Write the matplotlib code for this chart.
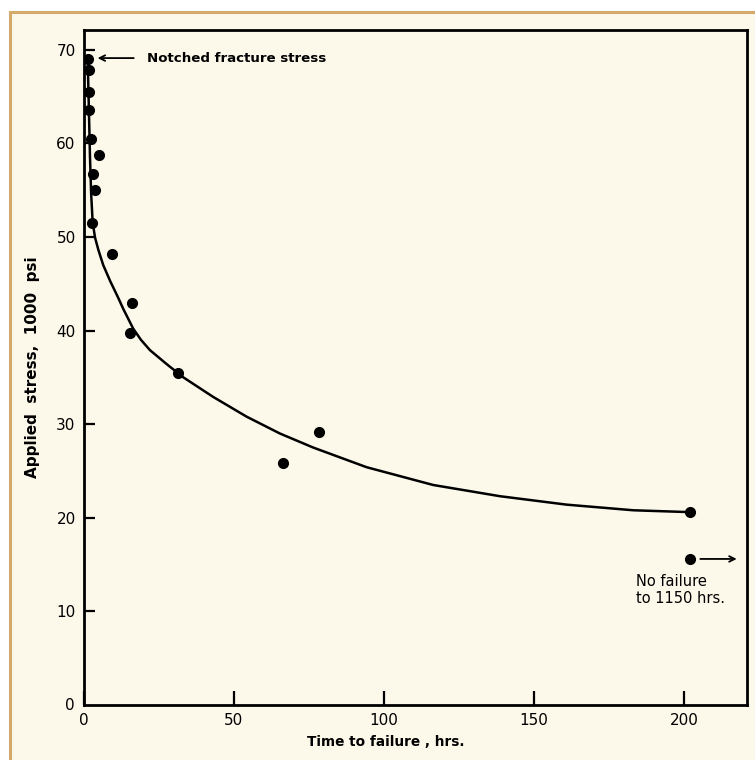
import matplotlib.pyplot as plt
from matplotlib.patches import Rectangle

# measured points (time to failure, hrs ; stress, 1000 psi)
time_hrs = [1.4, 1.8, 1.8, 1.8, 2.3, 4.9, 3.1, 3.8, 2.8, 9.4, 16.1, 15.3, 31.2, 78.3, 66.2, 202.0]
stress = [69.0, 67.8, 65.5, 63.6, 60.5, 58.8, 56.7, 55.0, 51.5, 48.2, 42.9, 39.7, 35.5, 29.2, 25.9, 20.6]

# run-out specimen (no failure)
runout_time = [202.0]
runout_stress = [15.6]

# faired curve
curve_time = [1.2, 1.6, 2.0, 2.4, 2.9, 3.7, 4.8, 6.4, 8.7, 11.4, 13.1, 16.4, 19.0, 22.0, 27.6,
              33.1, 43.1, 54.2, 65.3, 76.4, 94.2, 116.4, 138.7, 160.9, 183.1, 202.0]
curve_stress = [69.3, 64.0, 58.5, 54.5, 51.5, 49.9, 48.6, 47.0, 45.3, 43.5, 42.3, 40.2, 39.0, 37.9,
                36.4, 35.0, 32.9, 30.8, 29.0, 27.5, 25.4, 23.5, 22.3, 21.4, 20.8, 20.6]

x_ticks = [0, 50, 100, 150, 200]
y_ticks = [10, 20, 30, 40, 50, 60, 70]

cream = '#FCF8EA'
tan = '#D5AB6C'

fig = plt.figure(figsize=(7.55, 7.6), dpi=100, facecolor='white')
fig.patches.append(Rectangle((10 / 755, -0.05), 1.0, 1 - 12 / 760 + 0.05,
                             transform=fig.transFigure, facecolor=cream,
                             edgecolor=tan, linewidth=2.2, zorder=-5))

ax = fig.add_axes([84 / 755, 1 - 705 / 760, (747 - 84) / 755, (705 - 30) / 760])
ax.set_zorder(2)
ax.set_facecolor('none')
ax.set_xlim(0, 221)
ax.set_ylim(0, 72.1)

ax.plot(curve_time, curve_stress, color='black', lw=1.8, zorder=3)
ax.plot(time_hrs, stress, 'o', color='black', ms=7, zorder=4)
ax.plot(runout_time, runout_stress, 'o', color='black', ms=7, zorder=4)

for s in ax.spines.values():
    s.set_linewidth(2)

ax.set_xticks(x_ticks)
ax.set_yticks(y_ticks)
ax.tick_params(axis='x', direction='in', length=10, width=1.6, labelsize=11, pad=6)
ax.tick_params(axis='y', direction='in', length=8, width=1.6, labelsize=11, pad=6)

# zero label of the stress axis sits apart from the corner
ax.text(-4.7, 0.0, '0', fontsize=11, ha='center', va='center')

ax.set_ylabel('Applied  stress,  1000  psi', fontsize=11, fontweight='bold', labelpad=12)
ax.set_xlabel('Time to failure , hrs.', fontsize=9.8, fontweight='bold', labelpad=8)
ax.xaxis.set_label_coords(0.455, -0.045)

ax.annotate('', xy=(3.6, 69.1), xytext=(17.5, 69.1),
            arrowprops=dict(arrowstyle='->', color='black', lw=1.3))
ax.text(21.0, 69.1, 'Notched fracture stress', fontsize=9.6, fontweight='bold',
        va='center', ha='left')

ax.annotate('', xy=(218.5, 15.6), xytext=(204.5, 15.6),
            arrowprops=dict(arrowstyle='->', color='black', lw=1.3))
ax.text(184, 14.0, 'No failure\nto 1150 hrs.', fontsize=10.5, va='top', ha='left',
        linespacing=1.2)

fig.savefig('out.png', dpi=100, facecolor='white')
